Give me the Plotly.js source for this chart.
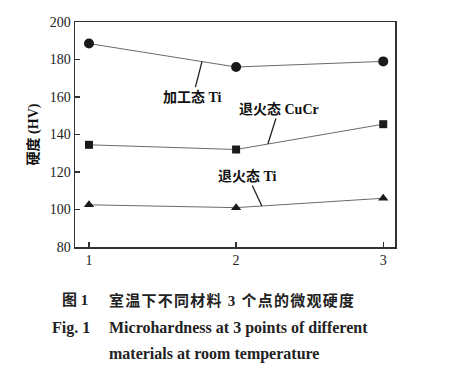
<!DOCTYPE html>
<html>
<head>
<meta charset="utf-8">
<script src="https://cdn.plot.ly/plotly-3.0.1.min.js"></script>
<style>html,body{margin:0;padding:0;background:#fff;}</style>
</head>
<body>
<div id="chart" style="width:464px;height:376px;"></div>
<script>
// Data
const points = [1, 2, 3];
const workedTi = [188.5, 176, 179];
const annealedCuCr = [134.5, 132, 145.5];
const annealedTi = [102.5, 101, 106];
const seriesNames = ["加工态 Ti", "退火态 CuCr", "退火态 Ti"];
const yTicks = [80, 100, 120, 140, 160, 180, 200];
const xTicks = [1, 2, 3];

const SERIF = "'Liberation Serif', 'Noto Sans CJK SC', serif";
const lineStyle = {color: '#6a6a6a', width: 1};

const traces = [
  {x: points, y: workedTi, name: seriesNames[0], mode: 'lines+markers', line: lineStyle,
   marker: {symbol: 'circle', size: 10, color: '#1a1a1a'}},
  {x: points, y: annealedCuCr, name: seriesNames[1], mode: 'lines+markers', line: lineStyle,
   marker: {symbol: 'square', size: 8, color: '#1a1a1a'}},
  {x: points, y: annealedTi, name: seriesNames[2], mode: 'lines+markers', line: lineStyle,
   marker: {symbol: 'triangle-up', size: 9, color: '#1a1a1a'}}
];

function yAt(xs, ys, x) {
  for (let i = 0; i < xs.length - 1; i++) {
    if (x >= xs[i] && x <= xs[i+1]) {
      const t = (x - xs[i]) / (xs[i+1] - xs[i]);
      return ys[i] + t * (ys[i+1] - ys[i]);
    }
  }
  return ys[ys.length-1];
}
const labelFont = {family: SERIF, size: 14, color: '#111', weight: 'bold'};
function leader(text, ys, xa, ax, ay) {
  return {x: xa, y: yAt(points, ys, xa), xref: 'x', yref: 'y', text: text,
          showarrow: true, arrowhead: 0, arrowwidth: 1.3, arrowcolor: '#222',
          ax: ax, ay: ay, font: labelFont};
}

function spaced(s) { return Array.from(s).join('\u200A'); }
function cap(text, px, py, size) {
  return {xref: 'paper', yref: 'paper', x: (px - 75) / 320, y: (247 - py) / 225,
          xanchor: 'left', yanchor: 'middle', showarrow: false, text: text,
          font: {family: SERIF, size: size, color: '#222', weight: 'bold'}};
}

const layout = {
  width: 464, height: 376,
  margin: {l: 75, r: 69, t: 22, b: 129},
  paper_bgcolor: '#fff', plot_bgcolor: '#fff',
  showlegend: false,
  font: {family: SERIF, color: '#222'},
  xaxis: {
    range: [0.905, 3.08], tickvals: xTicks, ticktext: xTicks.map(String),
    ticks: 'inside', ticklen: 5, tickwidth: 1.3, tickcolor: '#333',
    showline: true, linecolor: '#333', linewidth: 1.5, mirror: true,
    showgrid: false, zeroline: false,
    tickfont: {family: SERIF, size: 14, color: '#222'}
  },
  yaxis: {
    range: [80, 200], tickvals: yTicks,
    ticks: 'inside', ticklen: 5, tickwidth: 1.3, tickcolor: '#333',
    showline: true, linecolor: '#333', linewidth: 1.5, mirror: true,
    showgrid: false, zeroline: false,
    tickfont: {family: SERIF, size: 14, color: '#222'},
    title: {text: '硬度 (HV)', standoff: 8, font: {family: SERIF, size: 14, color: '#111', weight: 'bold'}}
  },
  annotations: [
    leader(seriesNames[0], workedTi, 1.768, -9, 35),
    leader(seriesNames[1], annealedCuCr, 2.216, 11, -35),
    leader(seriesNames[2], annealedTi, 2.175, -14, -30),
    cap('图 1', 60, 300, 15),
    cap(spaced('室温下不同材料 3 个点的微观硬度'), 107, 300, 15),
    cap('Fig. 1', 50, 328, 16),
    cap('Microhardness at 3 points of different', 107, 328, 16),
    cap('materials at room temperature', 107, 354, 16)
  ]
};

Plotly.newPlot('chart', traces, layout, {displayModeBar: false, staticPlot: true});
</script>
</body>
</html>
